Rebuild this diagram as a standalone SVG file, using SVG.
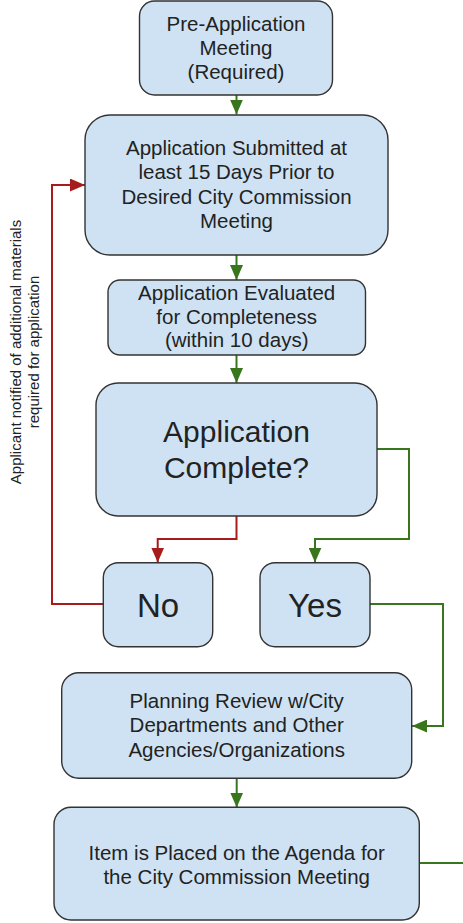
<svg xmlns="http://www.w3.org/2000/svg" width="463" height="923" viewBox="0 0 463 923">
<style>
.box{fill:#cfe2f3;stroke:#333;stroke-width:1.4}
.t{font-family:"Liberation Sans",Arial,sans-serif;font-size:20.5px;fill:#222;text-anchor:middle}
.big{font-size:30px}
.yn{font-size:33px}
.side{font-family:"Liberation Sans",Arial,sans-serif;font-size:15px;fill:#222;text-anchor:middle}
.g{fill:none;stroke:#38761d;stroke-width:2}
.r{fill:none;stroke:#a61c1c;stroke-width:2}
</style>
<defs>
<marker id="ag" markerUnits="userSpaceOnUse" markerWidth="16" markerHeight="13" refX="15" refY="6.5" orient="auto"><path d="M0,0 L15,6.5 L0,13 Z" fill="#38761d"/></marker>
<marker id="ar" markerUnits="userSpaceOnUse" markerWidth="16" markerHeight="13" refX="15" refY="6.5" orient="auto"><path d="M0,0 L15,6.5 L0,13 Z" fill="#a61c1c"/></marker>
</defs>
<rect width="463" height="923" fill="#fff"/>
<g id="connectors">
<path class="g" d="M236.5 95 V114.5" marker-end="url(#ag)"/>
<path class="g" d="M236.5 255 V280" marker-end="url(#ag)"/>
<path class="g" d="M236.5 355 V383" marker-end="url(#ag)"/>
<path class="r" d="M236.5 516 V539 H157.7 V562.5" marker-end="url(#ar)"/>
<path class="g" d="M377 449 H409 V539 H315 V562.5" marker-end="url(#ag)"/>
<path class="r" d="M103 604 H52 V185 H85" marker-end="url(#ar)"/>
<path class="g" d="M370 604 H443 V726 H412" marker-end="url(#ag)"/>
<path class="g" d="M236.7 778 V807.5" marker-end="url(#ag)"/>
<path class="g" d="M419 863 H463"/>
<text class="side" transform="translate(21,352) rotate(-90)"><tspan x="0" y="0">Applicant notified of additional materials</tspan><tspan x="0" y="18">required for application</tspan></text>
</g>
<g id="pre-application">
<rect class="box" x="139.5" y="1" width="193" height="94" rx="15"/>
<text class="t"><tspan x="236" y="31">Pre-Application</tspan><tspan x="236" y="55">Meeting</tspan><tspan x="236" y="79">(Required)</tspan></text>
</g>
<g id="submitted">
<rect class="box" x="85" y="115" width="303" height="140" rx="25"/>
<text class="t"><tspan x="236.5" y="155">Application Submitted at</tspan><tspan x="236.5" y="179">least 15 Days Prior to</tspan><tspan x="236.5" y="203.5">Desired City Commission</tspan><tspan x="236.5" y="228">Meeting</tspan></text>
</g>
<g id="evaluated">
<rect class="box" x="108" y="280" width="257.5" height="75" rx="12"/>
<text class="t"><tspan x="236.7" y="300">Application Evaluated</tspan><tspan x="236.7" y="324">for Completeness</tspan><tspan x="236.7" y="347">(within 10 days)</tspan></text>
</g>
<g id="complete">
<rect class="box" x="96" y="383" width="281" height="133" rx="22"/>
<text class="t big"><tspan x="236.5" y="442">Application</tspan><tspan x="236.5" y="478">Complete?</tspan></text>
</g>
<g id="no">
<rect class="box" x="103.3" y="562.7" width="109.4" height="84" rx="15"/>
<text class="t yn" x="158" y="616.5">No</text>
</g>
<g id="yes">
<rect class="box" x="260" y="562.7" width="110" height="84" rx="15"/>
<text class="t yn" x="315" y="616.5">Yes</text>
</g>
<g id="planning">
<rect class="box" x="61.7" y="672.7" width="350" height="105.5" rx="17"/>
<text class="t"><tspan x="236.7" y="708">Planning Review w/City</tspan><tspan x="236.7" y="732">Departments and Other</tspan><tspan x="236.7" y="756.5">Agencies/Organizations</tspan></text>
</g>
<g id="agenda">
<rect class="box" x="54" y="807.3" width="365.3" height="112.7" rx="17"/>
<text class="t"><tspan x="236.7" y="860">Item is Placed on the Agenda for</tspan><tspan x="236.7" y="883.5">the City Commission Meeting</tspan></text>
</g>
</svg>
